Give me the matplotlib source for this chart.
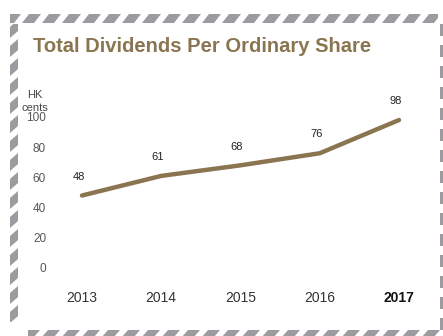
import numpy as np
import matplotlib.pyplot as plt
from matplotlib.patches import Polygon, Rectangle

years = ['2013', '2014', '2015', '2016', '2017']
dividends = [48, 61, 68, 76, 98]
y_ticks = [0, 20, 40, 60, 80, 100]

W, H = 443, 336
brown = '#8b7551'
grey = '#9c9ca0'

plt.rcParams['font.family'] = ['Liberation Sans', 'DejaVu Sans']

fig = plt.figure(figsize=(W / 100, H / 100), dpi=100)

# frame layer in pixel coordinates
bg = fig.add_axes([0, 0, 1, 1])
bg.set_xlim(0, W)
bg.set_ylim(H, 0)
bg.axis('off')


def strip(polys, box):
    clip = Rectangle(box[:2], box[2], box[3], transform=bg.transData)
    for pts in polys:
        p = Polygon(pts, closed=True, facecolor=grey, lw=0)
        bg.add_patch(p)
        p.set_clip_path(clip)


# top band of slanted dashes
strip([[(x, 23), (x + 12, 23), (x + 19, 14), (x + 7, 14)] for x in range(2, 440, 20)],
      (10, 14, 428, 9))
# left band
strip([[(10, y + 7), (18, y), (18, y + 11), (10, y + 18)] for y in range(20, 330, 19)],
      (10, 24, 8, 298))
# bottom band
strip([[(x, 337), (x + 12, 337), (x + 18, 330), (x + 6, 330)] for x in range(22, 445, 20)],
      (28, 330, 415, 6))
# right dashed edge
strip([[(440, y), (443, y), (443, y + 12), (440, y + 12)] for y in range(24, 330, 21)],
      (440, 22, 3, 310))

bg.text(33, 47, 'Total Dividends Per Ordinary Share', color=brown, fontsize=14.5,
        fontweight='bold', ha='left', va='center')
bg.text(35, 95, 'HK', color='#444444', fontsize=8, ha='center', va='center')
bg.text(35, 108, 'cents', color='#444444', fontsize=8, ha='center', va='center')

# plot area, placed in pixels
left, right, top, bottom = 60, 425, 100, 285
ax = fig.add_axes([left / W, 1 - bottom / H, (right - left) / W, (bottom - top) / H])
x = np.arange(len(years))
ax.plot(x, dividends, color=brown, lw=3.2, solid_capstyle='round', solid_joinstyle='round')

px_x = 79.25
ax.set_xlim(-22 / px_x, 4 + 26 / px_x)
px_y = 1.51
ax.set_ylim(-(bottom - 268) / px_y, (268 - top) / px_y)

for xi, v in zip(x, dividends):
    ax.annotate(str(v), (xi, v), xytext=(-2.5, 13.5), textcoords='offset points',
                ha='center', va='center', fontsize=8, color='#222222')

ax.set_yticks(y_ticks)
ax.set_yticklabels([str(t) for t in y_ticks], fontsize=8.5, color='#555555')
ax.set_xticks(x)
ax.set_xticklabels(years, fontsize=10, color='#333333')
ax.get_xticklabels()[-1].set_fontweight('bold')
ax.get_xticklabels()[-1].set_color('#111111')
ax.tick_params(axis='y', length=0, pad=10)
ax.tick_params(axis='x', length=0, pad=4)
for s in ax.spines.values():
    s.set_visible(False)
ax.patch.set_alpha(0)

fig.savefig('out.png', dpi=100)
